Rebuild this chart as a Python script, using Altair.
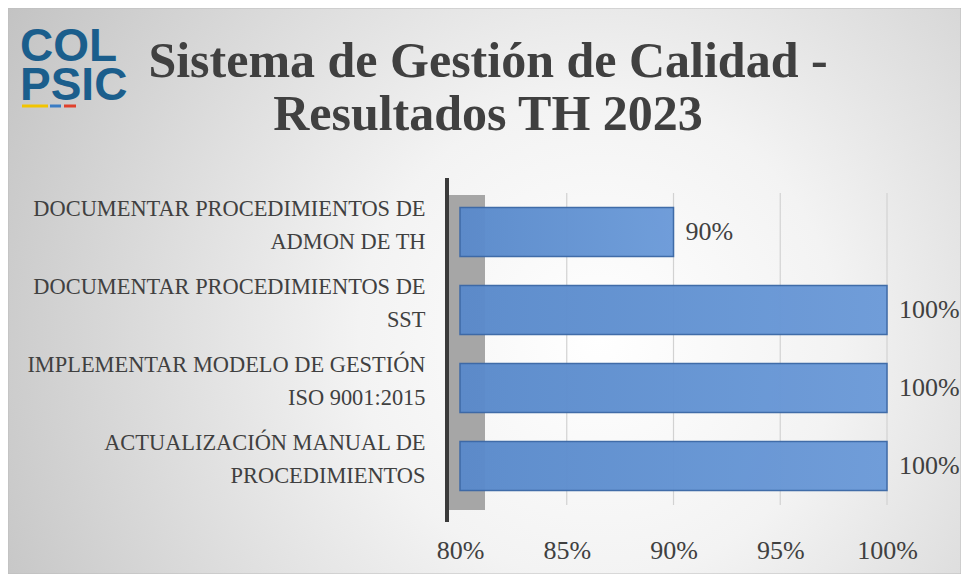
import altair as alt
import pandas as pd

# ---- data ----
cat_line1 = ["DOCUMENTAR PROCEDIMIENTOS DE", "DOCUMENTAR PROCEDIMIENTOS DE",
             "IMPLEMENTAR MODELO DE GESTIÓN", "ACTUALIZACIÓN MANUAL DE"]
cat_line2 = ["ADMON DE TH", "SST", "ISO 9001:2015", "PROCEDIMIENTOS"]
valores = [90, 100, 100, 100]
ticks = [80, 85, 90, 95, 100]
grid_ticks = [85, 90, 95, 100]
title_l1 = "Sistema de Gestión de Calidad -"
title_l2 = "Resultados TH 2023"
logo_lines = ["COL", "PSIC"]

categorias = [a + "|" + b for a, b in zip(cat_line1, cat_line2)]
df = pd.DataFrame({"cat": categorias, "valor": valores})
df_grid = pd.DataFrame({"t": grid_ticks})
one = pd.DataFrame({"d": [0]})

W, H = 427, 312
PL, PT, PR, PB = 452, 185, 74, 69
TXT = "#404040"
SERIF = "Liberation Serif"

xscale = alt.Scale(domain=[80, 100], nice=False, zero=False)
yscale = alt.Scale(paddingInner=0.37, paddingOuter=0.185)

bg = alt.Chart(one).mark_rect(
    color=alt.RadialGradient(
        gradient="radial",
        stops=[alt.GradientStop(color="#ffffff", offset=0),
               alt.GradientStop(color="#f3f3f3", offset=0.35),
               alt.GradientStop(color="#c2c2c2", offset=1)],
        x1=0.62, y1=0.55, r1=0, x2=0.62, y2=0.55, r2=0.72),
    stroke="#bdbdbd", strokeWidth=1,
).encode(x=alt.value(-PL), x2=alt.value(W + PR), y=alt.value(-PT), y2=alt.value(H + PB))

wall = alt.Chart(one).mark_rect(color="#a6a6a6").encode(
    x=alt.value(-13), x2=alt.value(25), y=alt.value(2), y2=alt.value(317))
wall_line = alt.Chart(one).mark_rule(color="#3a3a3a", strokeWidth=4).encode(
    x=alt.value(-13), y=alt.value(-15), y2=alt.value(329))

grid = alt.Chart(df_grid).mark_rule(color="#d2d2d2", strokeWidth=1.2).encode(
    x=alt.X("t:Q", scale=xscale), y=alt.value(0), y2=alt.value(H))

bars = alt.Chart(df).mark_bar(
    color=alt.LinearGradient(
        gradient="linear",
        stops=[alt.GradientStop(color="#5a8acb", offset=0),
               alt.GradientStop(color="#6c9bd9", offset=1)],
        x1=0, x2=1, y1=0, y2=0),
    stroke="#3b68a6", strokeWidth=1.5, opacity=0.97,
).encode(
    x=alt.X("valor:Q", scale=xscale,
            axis=alt.Axis(values=ticks, labelExpr="datum.value + '%'", title=None,
                          grid=False, domain=False, ticks=False, labelPadding=32,
                          labelFont=SERIF, labelFontSize=26, labelColor=TXT,
                          labelFlush=False, zindex=1)),
    x2=alt.datum(80),
    y=alt.Y("cat:N", sort=categorias, scale=yscale,
            axis=alt.Axis(title=None, domain=False, ticks=False, labelPadding=35,
                          labelExpr="split(datum.label, '|')", labelLimit=0,
                          labelFont=SERIF, labelFontSize=22.4, labelColor=TXT,
                          labelLineHeight=33, labelOffset=-23, zindex=1)),
)

labels = alt.Chart(df).mark_text(
    align="left", baseline="middle", dx=12, font=SERIF, fontSize=26, color=TXT
).encode(
    x=alt.X("valor:Q", scale=xscale),
    y=alt.Y("cat:N", sort=categorias, scale=yscale),
    text=alt.Text("label:N"),
).transform_calculate(label="datum.valor + '%'")

def txt(s, x, y, **kw):
    return alt.Chart(pd.DataFrame({"s": [s]})).mark_text(**kw).encode(
        text="s", x=alt.value(x), y=alt.value(y))

t1 = txt(title_l1, 28, -116, font=SERIF, fontSize=50, fontWeight="bold",
         color=TXT, align="center", baseline="alphabetic")
t2 = txt(title_l2, 28, -63, font=SERIF, fontSize=50, fontWeight="bold",
         color=TXT, align="center", baseline="alphabetic")

LOGO = "#1b5e8c"
logo = txt(logo_lines, -440, -132, font="Liberation Sans", fontSize=46, fontWeight="bold",
           color=LOGO, align="left", baseline="alphabetic", lineHeight=39)
stripe_y = -87
s1 = alt.Chart(one).mark_rule(color="#f2c400", strokeWidth=3).encode(
    x=alt.value(-438), x2=alt.value(-412), y=alt.value(stripe_y))
s2 = alt.Chart(one).mark_rule(color="#3a7cc4", strokeWidth=3).encode(
    x=alt.value(-410), x2=alt.value(-399), y=alt.value(stripe_y))
s3 = alt.Chart(one).mark_rule(color="#e0412c", strokeWidth=3).encode(
    x=alt.value(-396), x2=alt.value(-384), y=alt.value(stripe_y))

chart = alt.layer(bg, wall, grid, wall_line, bars, labels, t1, t2, logo, s1, s2, s3).properties(
    width=W, height=H, autosize="none",
    padding={"left": PL, "top": PT, "right": PR, "bottom": PB},
    background="white",
).configure_view(stroke=None)

chart.save("out.html", embed_options={"renderer": "svg", "actions": False})
